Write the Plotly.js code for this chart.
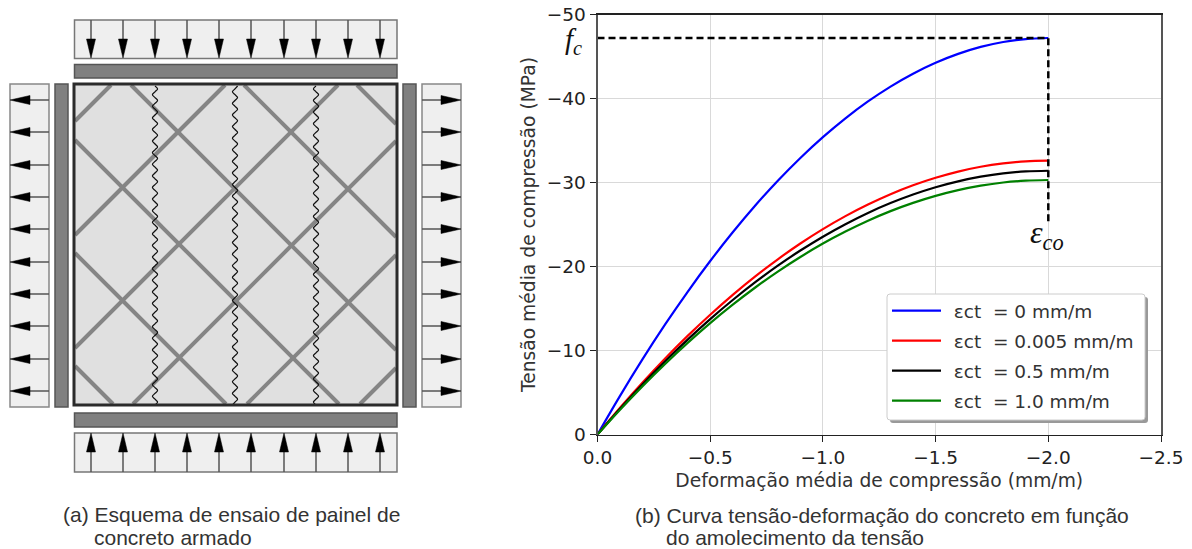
<!DOCTYPE html>
<html><head><meta charset="utf-8">
<script src="https://cdn.plot.ly/plotly-3.0.1.min.js"></script>
<style>html,body{margin:0;padding:0;background:#fff}#c{width:1192px;height:549px}</style>
</head><body><div id="c"></div>
<script>
var W = 1192, H = 549;
// chart data
var strain = [0,-0.1,-0.2,-0.3,-0.4,-0.5,-0.6,-0.7,-0.8,-0.9,-1.0,-1.1,-1.2,-1.3,-1.4,-1.5,-1.6,-1.7,-1.8,-1.9,-2.0];
var stress0 = [0,-4.60,-8.97,-13.10,-16.99,-20.65,-24.07,-27.26,-30.21,-32.92,-35.40,-37.64,-39.65,-41.42,-42.95,-44.25,-45.31,-46.14,-46.73,-47.08,-47.2];
var stress005 = [0,-3.18,-6.19,-9.05,-11.74,-14.26,-16.63,-18.83,-20.86,-22.74,-24.45,-26.00,-27.38,-28.61,-29.67,-30.56,-31.30,-31.87,-32.27,-32.52,-32.6];
var stress05 = [0,-3.06,-5.97,-8.71,-11.30,-13.74,-16.01,-18.13,-20.10,-21.90,-23.55,-25.04,-26.38,-27.55,-28.57,-29.44,-30.14,-30.69,-31.09,-31.32,-31.4];
var stress10 = [0,-2.95,-5.76,-8.41,-10.91,-13.26,-15.45,-17.50,-19.39,-21.13,-22.73,-24.16,-25.45,-26.59,-27.57,-28.41,-29.09,-29.62,-30.00,-30.22,-30.3];
var legendNames = ['\u00a0\u200aεct\u00a0 = 0 mm/m','\u00a0\u200aεct\u00a0 = 0.005 mm/m','\u00a0\u200aεct\u00a0 = 0.5 mm/m','\u00a0\u200aεct\u00a0 = 1.0 mm/m'];
var lineColors = ['#0000ff','#ff0000','#000000','#008000'];
var fcX = [0,-2,-2], fcY = [-47.2,-47.2,-25.3];
var xTicks = [0,-0.5,-1,-1.5,-2,-2.5];
var yTicks = [0,-10,-20,-30,-40,-50];

// schematic geometry, in page pixels
var arrowX = [91,123,155,187,219,251,284,316,348,380];
var arrowY = [100,132,165,197,229,262,294,326,359,391];
var waveX = [155,235,316];
var waveOffsets = [0,2.6,0,-2.6];
var diagUp = [196,310,423,537,651,764];     // x+y = const
var diagDown = [272,159,46,-65,-178,-291];  // x-y = const
var panel = {l:75,t:85,r:396,b:404};

var traces = [];
[stress0,stress005,stress05,stress10].forEach(function(s,i){
  traces.push({x:strain,y:s,type:'scatter',mode:'lines',name:legendNames[i],legendgroup:'g'+i,
    line:{color:lineColors[i],width:2.2,shape:'spline',smoothing:1},hoverinfo:'skip',xaxis:'x',yaxis:'y'});
});
traces.push({x:fcX,y:fcY,type:'scatter',mode:'lines',showlegend:false,line:{color:'#000',width:2.5,dash:'7px,4px'},xaxis:'x',yaxis:'y'});

function p(o){o.xaxis='x2';o.yaxis='y2';o.showlegend=false;o.hoverinfo='skip';o.type='scatter';o.mode=o.mode||'lines';return o;}

// rebars
var dx=[],dy=[];
function clipSeg(k,sign){
  var pts=[];
  [panel.l,panel.r].forEach(function(x){var y=sign*x+k; if(y>=panel.t&&y<=panel.b)pts.push([x,y]);});
  [panel.t,panel.b].forEach(function(y){var x=(y-k)/sign; if(x>panel.l&&x<panel.r)pts.push([x,y]);});
  if(pts.length>=2){dx.push(pts[0][0],pts[1][0],null);dy.push(pts[0][1],pts[1][1],null);}
}
diagUp.forEach(function(c){clipSeg(c,-1);});
diagDown.forEach(function(c){clipSeg(-c,1);});
traces.push(p({x:dx,y:dy,line:{color:'#858585',width:4}}));

// waves
waveX.forEach(function(x0,j){
  var xs=[],ys=[],i=0;
  for(var y=panel.t+1;y<=panel.b+1;y+=2.9){xs.push(x0+waveOffsets[(i+j)%4]);ys.push(y);i++;}
  traces.push(p({x:xs,y:ys,line:{color:'#111',width:1.2,shape:'spline',smoothing:1}}));
});

// arrows
var shX=[],shY=[],hX=[],hY=[];
arrowX.forEach(function(x){
  shX.push(x,x,null);shY.push(20,48,null);
  hX.push(x-4.5,x+4.5,x,x-4.5,null);hY.push(39,39,58,39,null);
  shX.push(x,x,null);shY.push(472,445,null);
  hX.push(x-4.5,x+4.5,x,x-4.5,null);hY.push(452,452,433,452,null);
});
arrowY.forEach(function(y){
  shX.push(49,25,null);shY.push(y,y,null);
  hX.push(30,30,10,30,null);hY.push(y-4.5,y+4.5,y,y-4.5,null);
  shX.push(422,446,null);shY.push(y,y,null);
  hX.push(441,441,461,441,null);hY.push(y-4.5,y+4.5,y,y-4.5,null);
});
traces.push(p({x:shX,y:shY,line:{color:'#555',width:1.5}}));
traces.push(p({x:hX,y:hY,fill:'toself',fillcolor:'#000',line:{color:'#000',width:0.5}}));

var rects = [
  [74.5,20,397,58.5,'#efefef','#777',1.5],[74.5,433,397,472,'#efefef','#777',1.5],
  [10,84,49,407,'#efefef','#888',1.5],[422,84,461,407,'#efefef','#888',1.5],
  [74.5,64.5,397,78,'#808080','#555',1.5],[74.5,413,397,427,'#808080','#555',1.5],
  [55,84,68,407,'#808080','#555',1.5],[403,84,416,407,'#808080','#555',1.5]
];
var shapes = rects.map(function(r){return {type:'rect',xref:'x2',yref:'y2',x0:r[0],y0:r[1],x1:r[2],y1:r[3],fillcolor:r[4],line:{color:r[5],width:r[6]},layer:'below'};});
shapes.push({type:'rect',xref:'x2',yref:'y2',x0:panel.l-1,y0:panel.t-1,x1:panel.r+1,y1:panel.b+1,fillcolor:'#e0e0e0',line:{width:0},layer:'below'});
shapes.push({type:'rect',xref:'x2',yref:'y2',x0:panel.l-1,y0:panel.t-1,x1:panel.r+1,y1:panel.b+1,fillcolor:'rgba(0,0,0,0)',line:{color:'#2b2b2b',width:3},layer:'above'});

function rr(l,t,r,b,c){return 'M'+(l+c)+','+t+' L'+(r-c)+','+t+' Q'+r+','+t+' '+r+','+(t+c)+' L'+r+','+(b-c)+' Q'+r+','+b+' '+(r-c)+','+b+' L'+(l+c)+','+b+' Q'+l+','+b+' '+l+','+(b-c)+' L'+l+','+(t+c)+' Q'+l+','+t+' '+(l+c)+','+t+' Z';}
shapes.push({type:'path',xref:'x2',yref:'y2',path:rr(890,297,1148,423,3),fillcolor:'#999',line:{width:0},layer:'above'});
shapes.push({type:'path',xref:'x2',yref:'y2',path:rr(887,294,1145,420,3),fillcolor:'#fff',line:{color:'#ccc',width:1},layer:'above'});

function note(x,y,t,size,fam,col){return {xref:'x2',yref:'y2',x:x,y:y,text:t,showarrow:false,xanchor:'left',yanchor:'middle',align:'left',font:{size:size,family:fam,color:col||'#333'}};}
var capFont='Liberation Sans, Arial, sans-serif', serif='Liberation Serif, serif';
var annotations=[
  note(61,514,'(a) Esquema de ensaio de painel de',21,capFont),
  note(92,537,'concreto armado',21,capFont),
  note(633,515,'(b) Curva tensão-deformação do concreto em função',21,capFont),
  note(664,537,'do amolecimento da tensão',21,capFont),
  note(563,41,'<i>f<sub>c</sub></i>',29,serif,'#111'),
  note(1028,234,'<i>ε<sub>co</sub></i>',32,serif,'#111')
];

var tickFont={family:'DejaVu Sans, sans-serif',size:18.5,color:'#222'};
var layout={
  width:W,height:H,margin:{l:0,r:0,t:0,b:0},paper_bgcolor:'#fff',plot_bgcolor:'rgba(0,0,0,0)',
  showlegend:true,
  legend:{x:887/W,y:1-292/H,xanchor:'left',yanchor:'top',xref:'paper',yref:'paper',bgcolor:'rgba(0,0,0,0)',borderwidth:0,
    font:{family:'DejaVu Sans, sans-serif',size:18.5,color:'#333'},itemwidth:49,traceorder:'grouped',tracegroupgap:3,itemclick:false,itemdoubleclick:false},
  xaxis:{domain:[597.5/W,1161/W],range:[0,-2.5],tickvals:xTicks,tickformat:'.1f',anchor:'y',ticks:'outside',ticklen:6,tickcolor:'#222',
    showgrid:true,gridcolor:'#d9d9d9',gridwidth:1,zeroline:false,showline:true,mirror:true,linecolor:'#222',linewidth:1.5,tickfont:tickFont,
    title:{text:'Deformação média de compressão (mm/m)',font:{family:'DejaVu Sans, sans-serif',size:18.7,color:'#333'},standoff:6}},
  yaxis:{domain:[1-434.5/H,1-14.5/H],range:[0,-50],tickvals:yTicks,anchor:'x',ticks:'outside',ticklen:6,tickcolor:'#222',
    showgrid:true,gridcolor:'#d9d9d9',gridwidth:1,zeroline:false,showline:true,mirror:true,linecolor:'#555',linewidth:2,tickfont:tickFont,
    title:{text:'Tensão média de compressão (MPa)',font:{family:'DejaVu Sans, sans-serif',size:18.7,color:'#333'},standoff:6}},
  xaxis2:{domain:[0,1],range:[0,W],visible:false,anchor:'y2',fixedrange:true},
  yaxis2:{domain:[0,1],range:[H,0],visible:false,anchor:'x2',fixedrange:true},
  shapes:shapes,annotations:annotations
};
Plotly.newPlot('c',traces,layout,{displayModeBar:false,staticPlot:true});
</script></body></html>
